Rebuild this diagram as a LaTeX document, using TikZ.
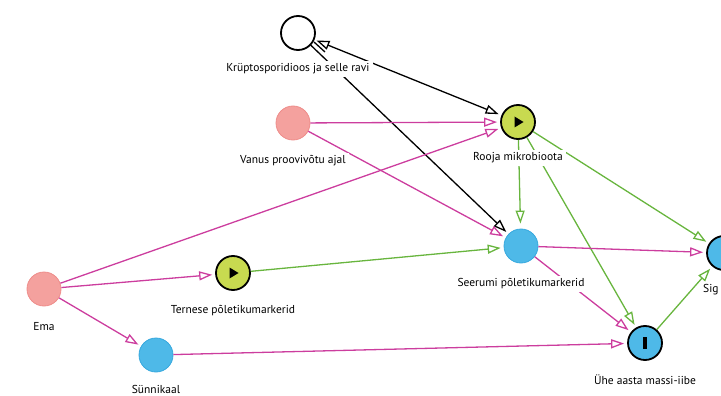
\documentclass[tikz,border=0pt]{standalone}
\usepackage{fontspec}
\setmainfont{PT Sans}
\usetikzlibrary{arrows.meta}
\definecolor{npink}{HTML}{F4A19E}
\definecolor{npinkb}{HTML}{EE8C8A}
\definecolor{nyel}{HTML}{C8DA50}
\definecolor{nblue}{HTML}{4EB9E8}
\definecolor{nblueb}{HTML}{36A8DE}
\definecolor{emag}{HTML}{CC3D9E}
\definecolor{egreen}{HTML}{68B53E}
\tikzset{
  nd/.style={circle, minimum size=34pt, inner sep=0pt, line width=1.8pt},
  adjusted/.style={nd, draw=npinkb, fill=npink, line width=0.8pt},
  expo/.style={nd, draw=black, fill=nyel},
  outc/.style={nd, draw=black, fill=nblue},
  anc/.style={nd, draw=nblueb, fill=nblue, line width=0.8pt},
  latent/.style={nd, draw=black, fill=white},
  lbl/.style={fill=white, inner sep=3pt, font=\fontsize{11.5}{13}\selectfont},
  edge/.style={line width=1.3pt, -{Triangle[open,length=13pt,width=9pt]}, shorten >=3pt},
  magedge/.style={edge, draw=emag},
  grnedge/.style={edge, draw=egreen},
  blkedge/.style={edge, draw=black},
}
\begin{document}
\begin{tikzpicture}[x=1pt,y=-1pt]
\useasboundingbox (0,0) rectangle (721,396);
\clip (0,0) rectangle (721,396);
% nodes
\node[latent]   (kr)  at (298,33)  {};
\node[adjusted] (va)  at (293,123) {};
\node[expo]     (ro)  at (518,122) {};
\node[adjusted] (em)  at (44,289)  {};
\node[expo]     (te)  at (233,273) {};
\node[anc]      (se)  at (521,246) {};
\node[outc]     (si)  at (724,253) {};
\node[anc]      (su)  at (156,355) {};
\node[outc]     (uh)  at (645,343) {};
% symbols
\fill (ro.center) ++(-3.5,-5.5) -- ++(9,5.5) -- ++(-9,5.5) -- cycle;
\fill (te.center) ++(-3.5,-5.5) -- ++(9,5.5) -- ++(-9,5.5) -- cycle;
\fill (uh.center) ++(-1.6,-6) rectangle ++(3.2,12);
% edges
\draw[blkedge, {Triangle[open,length=13pt,width=9pt]}-{Triangle[open,length=13pt,width=9pt]}, shorten <=2pt] (kr) -- (ro);
\draw[blkedge] (kr) -- (se);
\coordinate (d1) at (314,42);
\coordinate (d2) at (325,52);
\draw[line width=1.3pt] (d1) -- (d2);
\draw[magedge] (va) -- (ro);
\draw[magedge] (va) -- (se);
\draw[magedge] (em) -- (ro);
\draw[magedge] (em) -- (te);
\draw[magedge] (em) -- (su);
\draw[grnedge] (te) -- (se);
\draw[grnedge, shorten >=5pt] (ro) -- (se);
\draw[grnedge] (ro) -- (si);
\draw[grnedge] (ro) -- (uh);
\draw[magedge] (se) -- (si);
\draw[magedge] (se) -- (uh);
\draw[magedge] (su) -- (uh);
\draw[grnedge] (uh) -- (si);
% labels
\node[lbl] (lkr) at (298,69)  {Krüptosporidioos ja selle ravi};
\node[lbl] (lva) at (293,161) {Vanus proovivõtu ajal};
\node[lbl] (lro) at (518,158) {Rooja mikrobioota};
\node[lbl] (lem) at (44,327)  {Ema};
\node[lbl] (lte) at (233,311) {Ternese põletikumarkerid};
\node[lbl] (lse) at (521,284) {Seerumi põletikumarkerid};
\node[lbl, anchor=west, inner sep=0pt] (lsi) at (703,290) {Sig};
\node[lbl] (lsu) at (156,389) {Sünnikaal};
\node[lbl] (luh) at (645,380) {Ühe aasta massi-iibe};
\end{tikzpicture}
\end{document}
